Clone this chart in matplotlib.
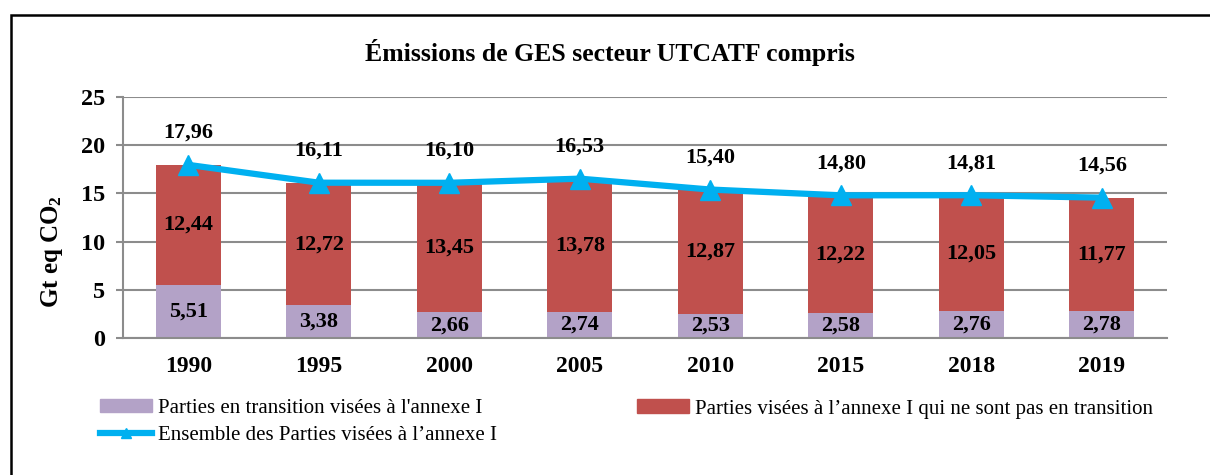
import matplotlib.pyplot as plt
import matplotlib.patches as mpatches
from matplotlib.lines import Line2D
import numpy as np

# Données (Gt eq CO2)
annees = ["1990", "1995", "2000", "2005", "2010", "2015", "2018", "2019"]
transition = [5.51, 3.38, 2.66, 2.74, 2.53, 2.58, 2.76, 2.78]
hors_transition = [12.44, 12.72, 13.45, 13.78, 12.87, 12.22, 12.05, 11.77]
ensemble = [17.96, 16.11, 16.10, 16.53, 15.40, 14.80, 14.81, 14.56]

plt.rcParams['font.family'] = ['Liberation Serif', 'DejaVu Serif']
plt.rcParams['mathtext.fontset'] = 'custom'
plt.rcParams['mathtext.rm'] = 'Liberation Serif:bold'
plt.rcParams['mathtext.it'] = 'Liberation Serif:bold'
plt.rcParams['mathtext.bf'] = 'Liberation Serif:bold'

c_violet = "#B3A2C7"
c_rouge = "#C0504D"
c_bleu = "#00B0F0"
c_grille = "#8C8C8C"

fig = plt.figure(figsize=(12.1, 4.75), dpi=100)
ax = fig.add_axes([0.1017, 0.2884, 0.8628, 0.5074])

x = np.arange(len(annees))
ax.bar(x, transition, width=0.5, color=c_violet, zorder=2)
ax.bar(x, hors_transition, width=0.5, bottom=transition, color=c_rouge, zorder=2)
ax.plot(x, ensemble, color=c_bleu, lw=4.5, marker='^', markersize=14, zorder=3)

# Etiquettes
for i in range(len(annees)):
    ax.text(x[i], transition[i] / 2, f"{transition[i]:.2f}".replace(".", ","),
            ha='center', va='center', fontsize=16, fontweight='bold', zorder=4)
    ax.text(x[i], transition[i] + hors_transition[i] / 2,
            f"{hors_transition[i]:.2f}".replace(".", ","),
            ha='center', va='center', fontsize=16, fontweight='bold', zorder=4)
    ax.annotate(f"{ensemble[i]:.2f}".replace(".", ","), (x[i], ensemble[i]),
                xytext=(0, 23), textcoords='offset points',
                ha='center', va='center', fontsize=16, fontweight='bold')

ax.set_xlim(-0.5, len(annees) - 0.5)
ax.set_ylim(0, 25)
ax.set_yticks([0, 5, 10, 15, 20, 25])
ax.set_xticks(x)
ax.set_xticklabels(annees)
ax.tick_params(axis='x', length=0, pad=13, labelsize=17)
ax.tick_params(axis='y', length=5, width=1.5, color=c_grille, pad=8, labelsize=17.5)
for lab in ax.get_xticklabels() + ax.get_yticklabels():
    lab.set_fontweight('bold')

ax.grid(axis='y', color=c_grille, lw=1.5, zorder=0)
for s in ['top', 'right']:
    ax.spines[s].set_visible(False)
ax.spines['left'].set_color(c_grille)
ax.spines['left'].set_linewidth(1.5)
ax.spines['bottom'].set_color(c_grille)
ax.spines['bottom'].set_linewidth(1.5)

ax.set_ylabel(r"Gt eq CO$_2$", fontsize=18, fontweight='bold')
ax.yaxis.set_label_coords(-0.056, 0.36)

fig.text(0.504, 0.89, "Émissions de GES secteur UTCATF compris",
         ha='center', va='center', fontsize=18.5, fontweight='bold')

# Légende
h1 = mpatches.Patch(color=c_violet, label="Parties en transition visées à l'annexe I")
h2 = Line2D([], [], color=c_bleu, lw=4.5, marker='^', markersize=7,
            label="Ensemble des Parties visées à l’annexe I")
h3 = mpatches.Patch(color=c_rouge, label="Parties visées à l’annexe I qui ne sont pas en transition")
opts = dict(frameon=False, fontsize=15, handlelength=2.5, handleheight=0.65,
            handletextpad=0.3, labelspacing=0.4, borderpad=0, borderaxespad=0)
fig.legend(handles=[h1, h2], loc='center left', bbox_to_anchor=(100 / 1210, 1 - 422 / 475), **opts)
fig.legend(handles=[h3], loc='center left', bbox_to_anchor=(637 / 1210, 1 - 409 / 475), **opts)

# Cadre
fig.patches.append(mpatches.Rectangle((11 / 1210, -0.2), 1.2, 1.2 - 15 / 475,
                                      transform=fig.transFigure, fill=False,
                                      edgecolor='black', lw=1.8))

plt.savefig("out.png")
